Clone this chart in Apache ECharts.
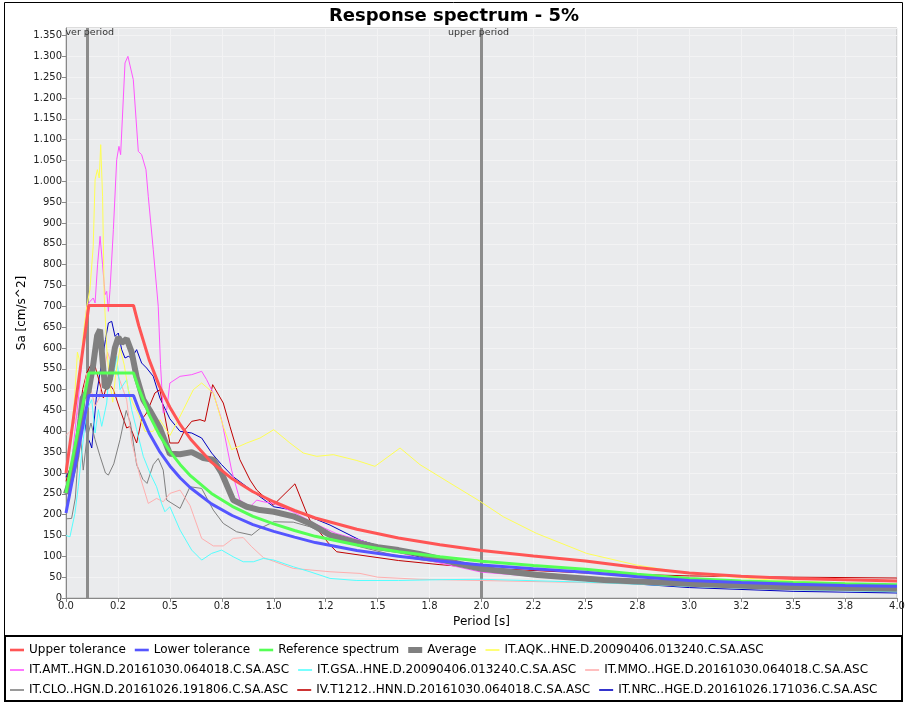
<!DOCTYPE html>
<html>
<head>
<meta charset="utf-8">
<script src="https://cdn.jsdelivr.net/npm/echarts@6/dist/echarts.min.js"></script>
<style>html,body{margin:0;padding:0;background:#fff;}#c{width:908px;height:706px;}</style>
</head>
<body>
<div id="c"></div>
<script>
// ---- data ----
const xTickLabels = ['0.0','0.2','0.5','0.8','1.0','1.2','1.5','1.8','2.0','2.2','2.5','2.8','3.0','3.2','3.5','3.8','4.0'];
const markerPeriods = [0.1, 2.0];
const markerNames = ['ver period', 'upper period'];

const spectrumT = [0, 0.11, 0.325, 0.35, 0.4, 0.45, 0.5, 0.55, 0.6, 0.7, 0.8, 0.9, 1.0, 1.1, 1.2, 1.4, 1.6, 1.8, 2.0, 2.25, 2.5, 2.75, 3.0, 3.25, 3.5, 3.75, 4.0];
const referenceSa = [252, 540, 540, 503, 440, 391, 352, 320, 293, 251, 220, 196, 178, 162, 148, 127, 111, 99, 88, 78, 69, 57, 47, 41, 37, 34, 32];
const upperSa = [300, 702, 702, 654, 572, 508, 458, 416, 381, 326, 286, 255, 231, 210, 192, 165, 144, 128, 114, 101, 89, 73, 60, 52, 47, 44, 41];
const lowerSa = [204, 486, 486, 453, 396, 352, 317, 288, 264, 226, 198, 176, 160, 146, 133, 114, 100, 89, 79, 70, 62, 51, 42, 37, 33, 30, 28];

const average = [[0,250],[0.02,280],[0.05,340],[0.07,430],[0.08,480],[0.095,490],[0.108,495],[0.131,560],[0.15,630],[0.164,644],[0.176,570],[0.188,505],[0.2,508],[0.212,526],[0.235,600],[0.252,626],[0.268,612],[0.292,622],[0.316,590],[0.34,530],[0.372,476],[0.404,450],[0.452,408],[0.5,346],[0.549,345],[0.605,350],[0.661,336],[0.709,332],[0.749,300],[0.805,235],[0.87,219],[0.934,211],[1.0,207],[1.094,196],[1.174,179],[1.271,151],[1.415,131],[1.5,122],[1.6,115],[1.7,106],[1.8,94],[1.9,81],[2.0,70],[2.27,55],[2.59,43],[3.0,34],[3.4,27],[4.0,22]];

const recAQK = [[0,300],[0.02,380],[0.04,470],[0.055,590],[0.07,560],[0.085,640],[0.1,700],[0.115,740],[0.131,844],[0.14,1004],[0.151,1028],[0.16,1008],[0.167,1088],[0.176,964],[0.184,724],[0.196,600],[0.21,520],[0.225,470],[0.24,540],[0.26,600],[0.28,560],[0.3,500],[0.32,470],[0.35,440],[0.38,400],[0.42,400],[0.452,428],[0.5,390],[0.533,420],[0.581,468],[0.613,500],[0.653,516],[0.709,492],[0.757,412],[0.797,356],[0.87,372],[0.934,384],[1.0,404],[1.078,372],[1.142,348],[1.207,340],[1.287,344],[1.4,330],[1.487,316],[1.608,360],[1.704,320],[1.848,276],[1.993,232],[2.105,195],[2.265,155],[2.506,107],[2.747,79],[2.988,59],[3.4,43],[4.0,31]];
const recAMT = [[0,250],[0.03,340],[0.06,480],[0.09,640],[0.1,700],[0.116,712],[0.131,720],[0.14,708],[0.152,800],[0.164,868],[0.176,800],[0.188,728],[0.196,736],[0.204,688],[0.212,740],[0.228,884],[0.244,1052],[0.255,1084],[0.263,1064],[0.284,1284],[0.298,1300],[0.305,1296],[0.324,1244],[0.348,1072],[0.364,1064],[0.385,1028],[0.396,964],[0.42,836],[0.444,700],[0.455,560],[0.468,444],[0.485,452],[0.5,516],[0.549,532],[0.605,536],[0.653,544],[0.677,524],[0.71,490],[0.749,428],[0.797,307],[0.837,235],[0.886,219],[0.918,235],[0.95,231],[1.0,227],[1.1,205],[1.2,178],[1.3,155],[1.415,139],[1.5,125],[1.7,95],[2.0,62],[2.5,42],[3.0,30],[3.5,24],[4.0,20]];
const recGSA = [[0,150],[0.019,147],[0.043,203],[0.059,267],[0.083,380],[0.1,452],[0.124,476],[0.14,396],[0.156,452],[0.172,412],[0.196,468],[0.212,572],[0.228,532],[0.244,580],[0.26,500],[0.292,524],[0.316,452],[0.34,404],[0.372,340],[0.404,300],[0.436,267],[0.46,227],[0.476,207],[0.5,219],[0.549,163],[0.605,115],[0.653,91],[0.701,107],[0.749,115],[0.805,99],[0.853,87],[0.902,87],[0.95,95],[1.0,91],[1.094,75],[1.174,63],[1.271,47],[1.4,42],[1.6,42],[1.8,44],[2.0,45],[2.5,38],[3.0,28],[3.5,20],[4.0,15]];
const recMMO = [[0,390],[0.02,400],[0.04,420],[0.06,450],[0.08,480],[0.1,540],[0.12,500],[0.14,460],[0.16,480],[0.18,540],[0.2,590],[0.22,560],[0.252,532],[0.292,476],[0.316,375],[0.356,292],[0.396,227],[0.436,239],[0.468,231],[0.5,251],[0.549,259],[0.597,222],[0.653,143],[0.709,125],[0.757,125],[0.805,143],[0.853,145],[0.894,123],[0.95,97],[1.0,88],[1.094,71],[1.271,63],[1.415,59],[1.5,50],[1.7,45],[2.0,42],[2.5,37],[3.0,30],[3.5,25],[4.0,22]];
const recCLO = [[0,190],[0.027,191],[0.045,240],[0.067,404],[0.083,307],[0.1,380],[0.12,420],[0.14,380],[0.164,340],[0.19,300],[0.204,295],[0.23,322],[0.26,380],[0.29,450],[0.31,420],[0.34,320],[0.37,285],[0.39,275],[0.42,320],[0.444,335],[0.468,307],[0.485,235],[0.549,215],[0.597,267],[0.653,263],[0.709,211],[0.757,179],[0.821,159],[0.894,151],[0.934,167],[1.0,183],[1.094,182],[1.174,171],[1.271,150],[1.415,123],[1.6,100],[1.8,85],[2.0,74],[2.5,50],[3.0,38],[3.5,32],[4.0,28]];
const recT1212 = [[0,280],[0.03,330],[0.06,420],[0.08,500],[0.1,540],[0.12,560],[0.14,556],[0.16,520],[0.18,480],[0.2,520],[0.228,500],[0.26,452],[0.292,408],[0.308,412],[0.34,372],[0.364,428],[0.388,444],[0.428,492],[0.452,500],[0.5,372],[0.541,372],[0.573,404],[0.605,424],[0.645,428],[0.669,424],[0.706,512],[0.757,468],[0.789,412],[0.837,332],[0.886,283],[0.918,259],[0.998,223],[1.102,274],[1.159,203],[1.174,187],[1.271,127],[1.303,111],[1.415,103],[1.6,90],[1.8,80],[2.0,72],[2.5,60],[3.0,53],[3.5,50],[4.0,48]];
const recNRC = [[0,290],[0.03,320],[0.06,400],[0.08,470],[0.1,390],[0.116,372],[0.124,360],[0.148,492],[0.17,560],[0.19,620],[0.204,660],[0.22,664],[0.236,628],[0.252,636],[0.268,596],[0.284,576],[0.3,580],[0.316,576],[0.34,596],[0.364,564],[0.388,552],[0.42,532],[0.452,480],[0.5,430],[0.549,400],[0.605,396],[0.653,384],[0.701,348],[0.749,320],[0.805,291],[0.87,267],[0.934,243],[1.0,219],[1.094,211],[1.174,195],[1.271,175],[1.415,139],[1.6,110],[1.8,88],[2.0,70],[2.5,42],[3.0,25],[3.5,16],[4.0,12]];

const seriesNames = ['Upper tolerance','Lower tolerance','Reference spectrum','Average',
  'IT.AQK..HNE.D.20090406.013240.C.SA.ASC','IT.AMT..HGN.D.20161030.064018.C.SA.ASC',
  'IT.GSA..HNE.D.20090406.013240.C.SA.ASC','IT.MMO..HGE.D.20161030.064018.C.SA.ASC',
  'IT.CLO..HGN.D.20161026.191806.C.SA.ASC','IV.T1212..HNN.D.20161030.064018.C.SA.ASC',
  'IT.NRC..HGE.D.20161026.171036.C.SA.ASC'];

// ---- build ----
const zip = (t, v) => t.map((x, i) => [x, v[i]]);
const seriesData = [zip(spectrumT, upperSa), zip(spectrumT, lowerSa), zip(spectrumT, referenceSa), average,
  recAQK, recAMT, recGSA, recMMO, recCLO, recT1212, recNRC];
const colors = ['#FF5555','#5555FF','#55FF55','#808080','#FFFF55','#FF55FF','#55FFFF','#FFAFAF','#808080','#C00000','#0000C0'];
const widths = [3,3,3,6,1,1,1,1,1,1,1];
const zs = [20,19,18,17,10,9,8,7,6,5,4];
const iconThin = 'path://M0,0M0,4.2L14,4.2L14,5.8L0,5.8ZM14,10';
const iconMid = 'path://M0,0M0,3.7L14,3.7L14,6.3L0,6.3ZM14,10';
const iconThick = 'path://M0,0M0,2L14,2L14,8L0,8ZM14,10';
const icons = [iconMid, iconMid, iconMid, iconThick, iconThin, iconThin, iconThin, iconThin, iconThin, iconThin, iconThin];

const series = seriesData.map((d, i) => ({
  name: seriesNames[i], type: 'line', data: d, symbol: 'none', showSymbol: false,
  lineStyle: {color: colors[i], width: widths[i]}, itemStyle: {color: colors[i]},
  z: zs[i], animation: false, silent: true
}));
series.push({
  name: 'markers', type: 'line', data: [], z: 30,
  markLine: {
    silent: true, symbol: ['none','none'], animation: false,
    lineStyle: {color: '#8C8C8C', width: 3, type: 'solid'},
    label: {show: true, position: 'end', formatter: '{b}', fontSize: 9.5, color: '#333', fontFamily: 'DejaVu Sans', distance: -10},
    data: markerPeriods.map((p, i) => ({xAxis: p, name: markerNames[i], label: i === 0 ? {offset: [3, 0]} : {offset: [-3, 0]}}))
  }
});

const legendRow = (from, to, top) => ({
  left: 10, top: top, itemWidth: 14, itemHeight: 10, itemGap: 9, padding: 0,
  textStyle: {fontSize: 12, color: '#000', fontFamily: 'DejaVu Sans'}, selectedMode: false,
  itemStyle: {borderWidth: 0},
  data: seriesNames.slice(from, to).map((n, k) => ({name: n, icon: icons[from + k], itemStyle: {color: colors[from + k], borderWidth: 0}}))
});

const chart = echarts.init(document.getElementById('c'), null, {renderer: 'canvas'});
chart.setOption({
  backgroundColor: '#fff',
  textStyle: {fontFamily: 'DejaVu Sans'},
  title: {text: 'Response spectrum - 5%', left: 'center', top: 2,
    textStyle: {fontSize: 18, fontWeight: 'bold', color: '#000', fontFamily: 'DejaVu Sans'}},
  grid: {left: 66, right: 11, top: 28, bottom: 108, show: true, backgroundColor: '#EAEBED', borderColor: '#B8B8B8', borderWidth: 1},
  xAxis: {type: 'value', min: 0, max: 4, interval: 0.25,
    name: 'Period [s]', nameLocation: 'middle', nameGap: 18, nameMoveOverlap: false,
    nameTextStyle: {fontSize: 12, color: '#000'},
    axisLine: {show: true, onZero: false, lineStyle: {color: '#888', width: 1}},
    axisTick: {show: true, length: 4, lineStyle: {color: '#888'}},
    axisLabel: {fontSize: 10, color: '#222', margin: 3,
      formatter: v => xTickLabels[Math.round(v / 0.25)] || ''},
    splitLine: {show: true, lineStyle: {color: '#F3F3F4', width: 1}}},
  yAxis: {type: 'value', min: 0, max: 1368, interval: 50,
    name: 'Sa [cm/s^2]', nameLocation: 'middle', nameGap: 38, nameRotate: 90, nameMoveOverlap: false,
    nameTextStyle: {fontSize: 12, color: '#000'},
    axisLine: {show: true, lineStyle: {color: '#888', width: 1}},
    axisTick: {show: true, length: 4, lineStyle: {color: '#888'}},
    axisLabel: {fontSize: 10, color: '#222', margin: 4, showMaxLabel: false,
      formatter: v => v >= 1000 ? Math.floor(v / 1000) + '.' + String(v % 1000).padStart(3, '0') : String(v)},
    splitLine: {show: true, lineStyle: {color: '#F3F3F4', width: 1}}},
  legend: [legendRow(0, 5, 644), legendRow(5, 8, 664), legendRow(8, 11, 684)],
  graphic: [
    {type: 'rect', shape: {x: 4.5, y: 2.5, width: 898, height: 699}, style: {fill: 'none', stroke: '#000', lineWidth: 1}, silent: true},
    {type: 'rect', shape: {x: 5, y: 636, width: 897, height: 65}, style: {fill: 'none', stroke: '#000', lineWidth: 2}, silent: true}
  ],
  series: series
});
</script>
</body>
</html>
